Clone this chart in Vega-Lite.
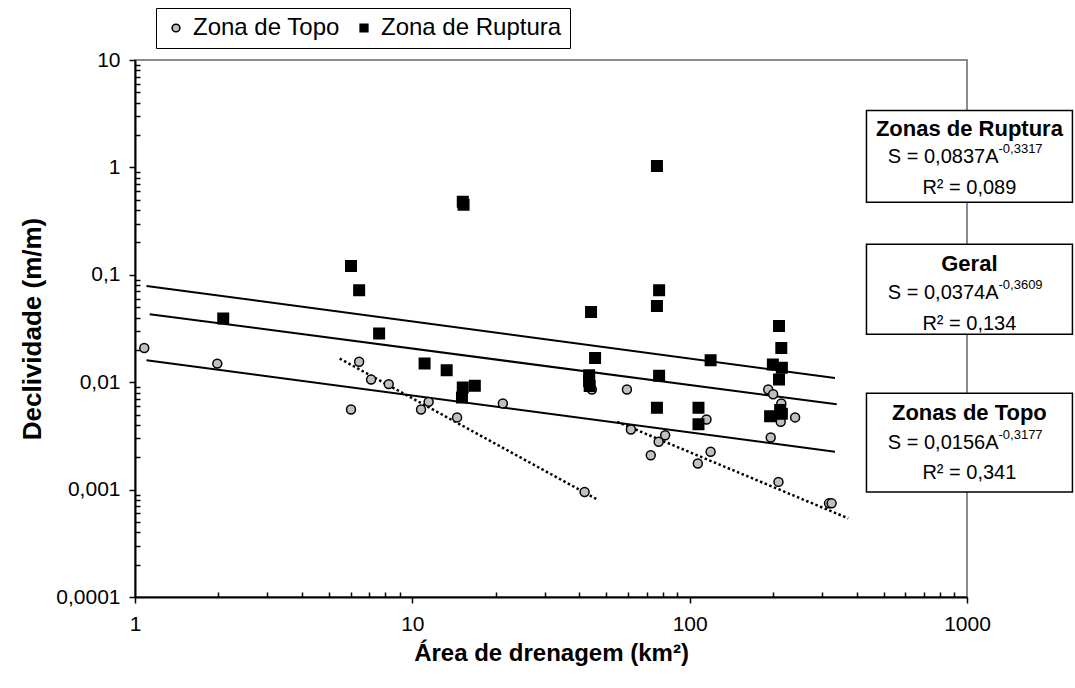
{
  "$schema": "https://vega.github.io/schema/vega-lite/v6.json",
  "width": 832,
  "height": 537,
  "autosize": {"type": "none"},
  "padding": {"left": 135, "top": 60, "right": 108, "bottom": 91},
  "background": "white",
  "config": {
    "font": "Liberation Sans",
    "view": {"stroke": "#8c8c8c", "strokeWidth": 2},
    "axis": {
      "grid": false,
      "domainColor": "black",
      "domainWidth": 2,
      "tickColor": "black",
      "tickWidth": 1.5,
      "labelColor": "black",
      "labelFont": "Liberation Sans",
      "labelFontSize": 21,
      "titleFont": "Liberation Sans",
      "titleFontSize": 26,
      "titleFontWeight": "bold",
      "titleColor": "black",
      "labelOverlap": false,
      "labelFlush": false
    }
  },
  "datasets": {
    "pontos": [
      {"zona": "Zona de Topo", "A": 1.08, "S": 0.0208},
      {"zona": "Zona de Topo", "A": 1.98, "S": 0.0149},
      {"zona": "Zona de Topo", "A": 6.01, "S": 0.00557},
      {"zona": "Zona de Topo", "A": 6.43, "S": 0.0155},
      {"zona": "Zona de Topo", "A": 7.10, "S": 0.0106},
      {"zona": "Zona de Topo", "A": 8.22, "S": 0.0096},
      {"zona": "Zona de Topo", "A": 10.75, "S": 0.00557},
      {"zona": "Zona de Topo", "A": 11.45, "S": 0.00656},
      {"zona": "Zona de Topo", "A": 14.5, "S": 0.0047},
      {"zona": "Zona de Topo", "A": 21.2, "S": 0.00634},
      {"zona": "Zona de Topo", "A": 41.8, "S": 0.00095},
      {"zona": "Zona de Topo", "A": 44.4, "S": 0.00855},
      {"zona": "Zona de Topo", "A": 59.4, "S": 0.00855},
      {"zona": "Zona de Topo", "A": 61.4, "S": 0.00363},
      {"zona": "Zona de Topo", "A": 72.4, "S": 0.00209},
      {"zona": "Zona de Topo", "A": 77.3, "S": 0.00279},
      {"zona": "Zona de Topo", "A": 81.6, "S": 0.00321},
      {"zona": "Zona de Topo", "A": 107, "S": 0.00175},
      {"zona": "Zona de Topo", "A": 115, "S": 0.0045},
      {"zona": "Zona de Topo", "A": 119, "S": 0.00225},
      {"zona": "Zona de Topo", "A": 192, "S": 0.00855},
      {"zona": "Zona de Topo", "A": 200, "S": 0.00773},
      {"zona": "Zona de Topo", "A": 214, "S": 0.00634},
      {"zona": "Zona de Topo", "A": 213, "S": 0.00428},
      {"zona": "Zona de Topo", "A": 240, "S": 0.0047},
      {"zona": "Zona de Topo", "A": 196, "S": 0.00306},
      {"zona": "Zona de Topo", "A": 209, "S": 0.00118},
      {"zona": "Zona de Topo", "A": 318, "S": 0.000745},
      {"zona": "Zona de Topo", "A": 325, "S": 0.000745},
      {"zona": "Zona de Ruptura", "A": 6.01, "S": 0.121},
      {"zona": "Zona de Ruptura", "A": 6.43, "S": 0.0718},
      {"zona": "Zona de Ruptura", "A": 2.08, "S": 0.0392},
      {"zona": "Zona de Ruptura", "A": 7.59, "S": 0.0284},
      {"zona": "Zona de Ruptura", "A": 11.07, "S": 0.0149},
      {"zona": "Zona de Ruptura", "A": 13.3, "S": 0.0129},
      {"zona": "Zona de Ruptura", "A": 15.2, "S": 0.48},
      {"zona": "Zona de Ruptura", "A": 15.3, "S": 0.45},
      {"zona": "Zona de Ruptura", "A": 15.2, "S": 0.00893},
      {"zona": "Zona de Ruptura", "A": 16.8, "S": 0.00925},
      {"zona": "Zona de Ruptura", "A": 15.1, "S": 0.00721},
      {"zona": "Zona de Ruptura", "A": 43.4, "S": 0.0116},
      {"zona": "Zona de Ruptura", "A": 43.4, "S": 0.0102},
      {"zona": "Zona de Ruptura", "A": 43.6, "S": 0.0092},
      {"zona": "Zona de Ruptura", "A": 44.1, "S": 0.0451},
      {"zona": "Zona de Ruptura", "A": 45.6, "S": 0.0168},
      {"zona": "Zona de Ruptura", "A": 76.2, "S": 1.03},
      {"zona": "Zona de Ruptura", "A": 77.6, "S": 0.0718},
      {"zona": "Zona de Ruptura", "A": 76.2, "S": 0.0513},
      {"zona": "Zona de Ruptura", "A": 77.6, "S": 0.0115},
      {"zona": "Zona de Ruptura", "A": 76.2, "S": 0.00577},
      {"zona": "Zona de Ruptura", "A": 107.6, "S": 0.00577},
      {"zona": "Zona de Ruptura", "A": 107.6, "S": 0.00406},
      {"zona": "Zona de Ruptura", "A": 119, "S": 0.016},
      {"zona": "Zona de Ruptura", "A": 210, "S": 0.0334},
      {"zona": "Zona de Ruptura", "A": 214, "S": 0.0208},
      {"zona": "Zona de Ruptura", "A": 199.5, "S": 0.0146},
      {"zona": "Zona de Ruptura", "A": 215, "S": 0.0136},
      {"zona": "Zona de Ruptura", "A": 210, "S": 0.0106},
      {"zona": "Zona de Ruptura", "A": 212, "S": 0.0055},
      {"zona": "Zona de Ruptura", "A": 195, "S": 0.00483},
      {"zona": "Zona de Ruptura", "A": 215, "S": 0.00508}
    ],
    "tendencias": [
      {"linha": "Ruptura", "A": 1.10, "S": 0.0787},
      {"linha": "Ruptura", "A": 334, "S": 0.01096},
      {"linha": "Geral", "A": 1.13, "S": 0.043},
      {"linha": "Geral", "A": 339, "S": 0.00624},
      {"linha": "Topo", "A": 1.10, "S": 0.016},
      {"linha": "Topo", "A": 334, "S": 0.00225}
    ],
    "pontilhadas": [
      {"linha": "T1", "A": 5.47, "S": 0.0166},
      {"linha": "T1", "A": 46.4, "S": 0.00081},
      {"linha": "T2", "A": 54.7, "S": 0.00428},
      {"linha": "T2", "A": 373, "S": 0.00054}
    ],
    "caixas": [
      {"caixa": "Ruptura", "titulo": "Zonas de Ruptura", "eq": "S = 0,0837A", "expo": "-0,3317", "r2": "R² = 0,089"},
      {"caixa": "Geral", "titulo": "Geral", "eq": "S = 0,0374A", "expo": "-0,3609", "r2": "R² = 0,134"},
      {"caixa": "Topo", "titulo": "Zonas de Topo", "eq": "S = 0,0156A", "expo": "-0,3177", "r2": "R² = 0,341"}
    ]
  },
  "layer": [
    {
      "data": {"name": "tendencias"},
      "mark": {"type": "line", "color": "black", "strokeWidth": 2},
      "encoding": {
        "x": {
          "field": "A", "type": "quantitative",
          "scale": {"type": "log", "domain": [1, 1000], "nice": false},
          "axis": {
            "title": "Área de drenagem (km²)",
            "titleFontSize": 24,
            "values": [1, 2, 3, 4, 5, 6, 7, 8, 9, 10, 20, 30, 40, 50, 60, 70, 80, 90, 100, 200, 300, 400, 500, 600, 700, 800, 900, 1000],
            "labelExpr": "indexof([1, 10, 100, 1000], datum.value) >= 0 ? toString(datum.value) : ''",
            "tickSize": {"condition": {"test": "indexof([1, 10, 100, 1000], datum.value) >= 0", "value": 6}, "value": -5},
            "labelPadding": 10,
            "titlePadding": 7
          }
        },
        "y": {
          "field": "S", "type": "quantitative",
          "scale": {"type": "log", "domain": [0.0001, 10], "nice": false},
          "axis": {
            "title": "Declividade (m/m)",
            "values": [0.0001, 0.0002, 0.0003, 0.0004, 0.0005, 0.0006, 0.0007, 0.0008, 0.0009, 0.001, 0.002, 0.003, 0.004, 0.005, 0.006, 0.007, 0.008, 0.009, 0.01, 0.02, 0.03, 0.04, 0.05, 0.06, 0.07, 0.08, 0.09, 0.1, 0.2, 0.3, 0.4, 0.5, 0.6, 0.7, 0.8, 0.9, 1, 2, 3, 4, 5, 6, 7, 8, 9, 10],
            "labelExpr": "indexof([0.0001, 0.001, 0.01, 0.1, 1, 10], datum.value) >= 0 ? replace(toString(datum.value), '.', ',') : ''",
            "tickSize": {"condition": {"test": "indexof([0.0001, 0.001, 0.01, 0.1, 1, 10], datum.value) >= 0", "value": 6}, "value": -5},
            "labelPadding": 9,
            "titlePadding": 10
          }
        },
        "detail": {"field": "linha"}
      }
    },
    {
      "data": {"name": "pontilhadas"},
      "mark": {"type": "line", "color": "black", "strokeWidth": 2.5, "strokeDash": [2.5, 2.5]},
      "encoding": {
        "x": {"field": "A", "type": "quantitative"},
        "y": {"field": "S", "type": "quantitative"},
        "detail": {"field": "linha"}
      }
    },
    {
      "data": {"name": "pontos"},
      "mark": {"type": "point", "filled": true, "stroke": "black", "strokeWidth": 1.5, "opacity": 1},
      "encoding": {
        "x": {"field": "A", "type": "quantitative"},
        "y": {"field": "S", "type": "quantitative"},
        "color": {
          "field": "zona", "type": "nominal",
          "scale": {"domain": ["Zona de Topo", "Zona de Ruptura"], "range": ["#c0c0c0", "#000000"]},
          "legend": {
            "title": null,
            "orient": "none",
            "legendX": 21,
            "legendY": -52,
            "direction": "horizontal",
            "fillColor": "white",
            "strokeColor": "black",
            "padding": 8,
            "labelFontSize": 24,
            "labelFont": "Liberation Sans",
            "labelColor": "black",
            "labelLimit": 400,
            "symbolSize": 60,
            "symbolStrokeColor": "black",
            "symbolStrokeWidth": 1.5,
            "columnPadding": 12,
            "labelOffset": 5
          }
        },
        "shape": {
          "field": "zona", "type": "nominal",
          "scale": {"domain": ["Zona de Topo", "Zona de Ruptura"], "range": ["circle", "square"]}
        },
        "size": {"condition": {"test": "datum.zona == 'Zona de Topo'", "value": 80}, "value": 110}
      }
    },
    {
      "data": {"name": "caixas"},
      "transform": [{"filter": "datum.caixa == 'Ruptura'"}],
      "layer": [
        {"mark": {"type": "rect", "fill": "white", "stroke": "black", "strokeWidth": 1.5},
         "encoding": {"x": {"datum": 434}, "x2": {"datum": 2400}, "y": {"datum": 3.39}, "y2": {"datum": 0.4725}}},
        {"mark": {"type": "text", "fontWeight": "bold", "fontSize": 22, "align": "center", "baseline": "middle", "color": "black"},
         "encoding": {"x": {"datum": 1020}, "y": {"datum": 2.257}, "text": {"field": "titulo"}}},
        {"mark": {"type": "text", "fontSize": 20, "align": "right", "baseline": "middle", "color": "black"},
         "encoding": {"x": {"datum": 1299}, "y": {"datum": 1.239}, "text": {"field": "eq"}}},
        {"mark": {"type": "text", "fontSize": 13, "align": "left", "baseline": "middle", "dy": -8, "color": "black"},
         "encoding": {"x": {"datum": 1299}, "y": {"datum": 1.239}, "text": {"field": "expo"}}},
        {"mark": {"type": "text", "fontSize": 20, "align": "center", "baseline": "middle", "color": "black"},
         "encoding": {"x": {"datum": 1020}, "y": {"datum": 0.6378}, "text": {"field": "r2"}}}
      ]
    },
    {
      "data": {"name": "caixas"},
      "transform": [{"filter": "datum.caixa == 'Geral'"}],
      "layer": [
        {"mark": {"type": "rect", "fill": "white", "stroke": "black", "strokeWidth": 1.5},
         "encoding": {"x": {"datum": 434}, "x2": {"datum": 2400}, "y": {"datum": 0.1922}, "y2": {"datum": 0.02796}}},
        {"mark": {"type": "text", "fontWeight": "bold", "fontSize": 22, "align": "center", "baseline": "middle", "color": "black"},
         "encoding": {"x": {"datum": 1020}, "y": {"datum": 0.1252}, "text": {"field": "titulo"}}},
        {"mark": {"type": "text", "fontSize": 20, "align": "right", "baseline": "middle", "color": "black"},
         "encoding": {"x": {"datum": 1299}, "y": {"datum": 0.0673}, "text": {"field": "eq"}}},
        {"mark": {"type": "text", "fontSize": 13, "align": "left", "baseline": "middle", "dy": -8, "color": "black"},
         "encoding": {"x": {"datum": 1299}, "y": {"datum": 0.0673}, "text": {"field": "expo"}}},
        {"mark": {"type": "text", "fontSize": 20, "align": "center", "baseline": "middle", "color": "black"},
         "encoding": {"x": {"datum": 1020}, "y": {"datum": 0.0347}, "text": {"field": "r2"}}}
      ]
    },
    {
      "data": {"name": "caixas"},
      "transform": [{"filter": "datum.caixa == 'Topo'"}],
      "layer": [
        {"mark": {"type": "rect", "fill": "white", "stroke": "black", "strokeWidth": 1.5},
         "encoding": {"x": {"datum": 434}, "x2": {"datum": 2400}, "y": {"datum": 0.0079}, "y2": {"datum": 0.000948}}},
        {"mark": {"type": "text", "fontWeight": "bold", "fontSize": 22, "align": "center", "baseline": "middle", "color": "black"},
         "encoding": {"x": {"datum": 1020}, "y": {"datum": 0.005147}, "text": {"field": "titulo"}}},
        {"mark": {"type": "text", "fontSize": 20, "align": "right", "baseline": "middle", "color": "black"},
         "encoding": {"x": {"datum": 1299}, "y": {"datum": 0.002708}, "text": {"field": "eq"}}},
        {"mark": {"type": "text", "fontSize": 13, "align": "left", "baseline": "middle", "dy": -8, "color": "black"},
         "encoding": {"x": {"datum": 1299}, "y": {"datum": 0.002708}, "text": {"field": "expo"}}},
        {"mark": {"type": "text", "fontSize": 20, "align": "center", "baseline": "middle", "color": "black"},
         "encoding": {"x": {"datum": 1020}, "y": {"datum": 0.001424}, "text": {"field": "r2"}}}
      ]
    }
  ]
}
